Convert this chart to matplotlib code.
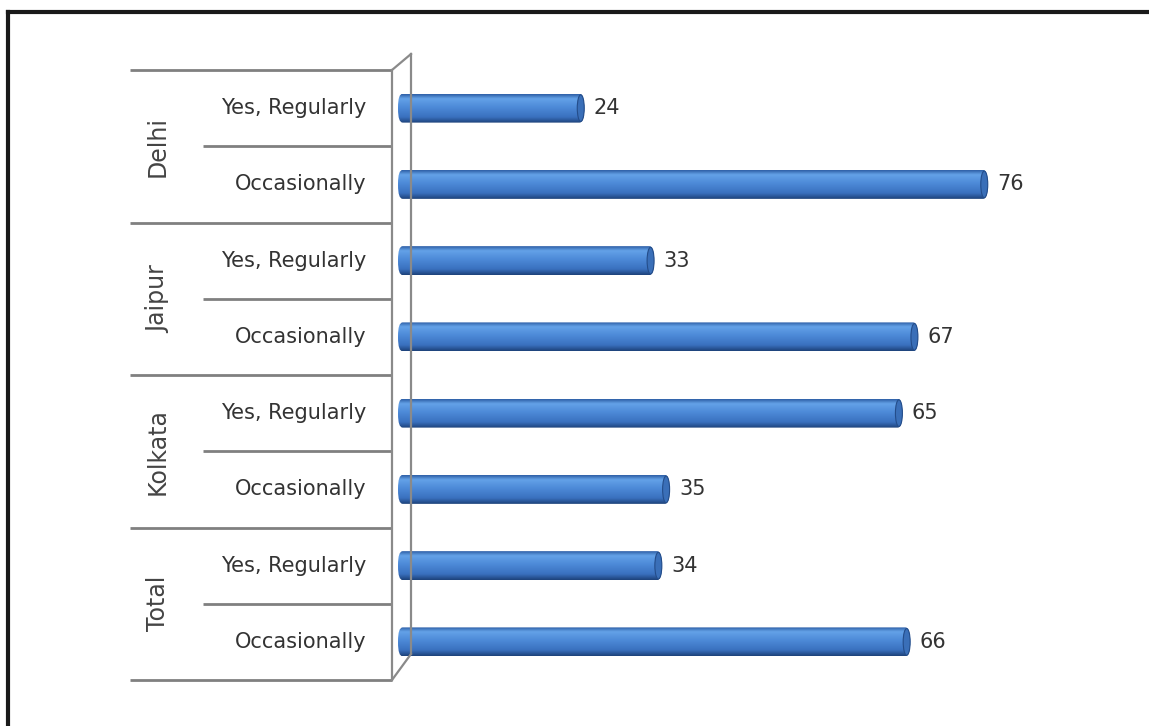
import matplotlib.pyplot as plt
import numpy as np
from matplotlib.lines import Line2D
from matplotlib.patches import FancyBboxPatch, Ellipse
from matplotlib.colors import LinearSegmentedColormap

cities = ["Delhi", "Jaipur", "Kolkata", "Total"]
answers = ["Yes, Regularly", "Occasionally"]
values = [24, 76, 33, 67, 65, 35, 34, 66]

W, H = 1149, 726
fig = plt.figure(figsize=(W / 100, H / 100), dpi=100)
fig.patch.set_facecolor("white")

def fx(px):
    return px / W

def fy(py):
    return 1 - py / H

# pixel layout of the plot area
top, bottom = 70, 680
x_front, depth_x, depth_y = 392, 19, 16
bar_left = 398

n = len(values)
ax = fig.add_axes([fx(bar_left), fy(bottom), fx(776), (bottom - top) / H])
ax.set_xlim(0, 100)
ax.set_ylim(n - 0.5, -0.5)
ax.axis("off")

# vertical shading that makes each bar look like a cylinder
grad = np.linspace(0, 1, 64).reshape(-1, 1)
cyl = LinearSegmentedColormap.from_list(
    "cyl", [(0, "#2e5fa6"), (0.15, "#64a2e8"), (0.45, "#4d8ad8"),
            (0.8, "#3a71bf"), (1, "#1d427a")])

bh = 0.38
for i, v in enumerate(values):
    y0 = i - bh / 2
    patch = FancyBboxPatch((0, y0), v, bh, boxstyle="round,pad=0,rounding_size=0.6",
                           mutation_aspect=0.3, facecolor="none", edgecolor="none")
    ax.add_patch(patch)
    im = ax.imshow(grad, cmap=cyl, aspect="auto", extent=(0, v, y0 + bh, y0),
                   interpolation="bicubic", zorder=2)
    im.set_clip_path(patch)
    ax.add_patch(Ellipse((v - 0.45, i), 0.9, bh * 0.92, facecolor="#3a6fb8",
                         edgecolor="#244d8a", lw=0.8, zorder=3))
    ax.text(v + 1.2, i, str(v), va="center", ha="left", fontsize=15,
            color="#333333")

# category table on the left
tab = fig.add_axes([fx(130), fy(bottom), fx(x_front - 130), (bottom - top) / H])
tab.set_xlim(0, 1)
tab.set_ylim(n - 0.5, -0.5)
tab.axis("off")
sub_x = (203 - 130) / (x_front - 130)
line = dict(color="#808080", lw=2, solid_capstyle="butt", clip_on=False)
for g, city in enumerate(cities):
    tab.plot([0, 1], [2 * g - 0.5] * 2, **line)
    tab.plot([sub_x, 1], [2 * g + 0.5] * 2, **line)
    tab.text(0.107, 2 * g + 0.5, city, rotation=90, ha="center", va="center",
             fontsize=17, color="#444444")
    for k, a in enumerate(answers):
        tab.text(0.903, 2 * g + k, a, ha="right", va="center", fontsize=15,
                 color="#333333")
tab.plot([0, 1], [n - 0.5] * 2, **line)

# side wall of the 3-D frame
wall = dict(color="#8a8a8a", lw=1.6, transform=fig.transFigure)
xb = x_front + depth_x
fig.add_artist(Line2D([fx(x_front)] * 2, [fy(top), fy(bottom)], **wall))
fig.add_artist(Line2D([fx(xb)] * 2, [fy(top - depth_y), fy(bottom - depth_y - 10)], **wall))
fig.add_artist(Line2D([fx(x_front), fx(xb)], [fy(top), fy(top - depth_y)], **wall))
fig.add_artist(Line2D([fx(x_front), fx(xb)], [fy(bottom), fy(bottom - depth_y - 10)], **wall))

# outer frame (top and left edges)
frame = dict(color="#1a1a1a", lw=3, transform=fig.transFigure)
fig.add_artist(Line2D([fx(8), 1], [fy(12), fy(12)], **frame))
fig.add_artist(Line2D([fx(8), fx(8)], [fy(12), 0], **frame))

fig.savefig("out.png", dpi=100, facecolor="white")
